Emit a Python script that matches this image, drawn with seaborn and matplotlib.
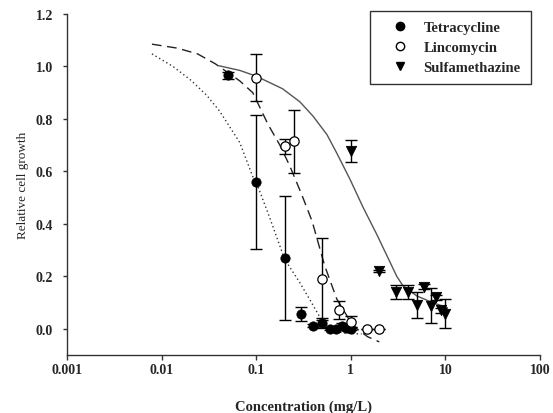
import numpy as np
import pandas as pd
import matplotlib
matplotlib.use("Agg")
import matplotlib.pyplot as plt
import seaborn as sns
from matplotlib.ticker import FixedLocator, NullLocator
from matplotlib.lines import Line2D

# ---- data ----
tet_x = [0.05, 0.1, 0.2, 0.3, 0.4, 0.5, 0.6, 0.7, 0.8, 0.9, 1.0]
tet_y = [0.966, 0.56, 0.27, 0.057, 0.012, 0.022, 0.0, 0.0, 0.012, 0.003, 0.0]
tet_err = [0.012, 0.255, 0.235, 0.027, 0.005, 0.02, 0.005, 0.005, 0.01, 0.005, 0.005]

linc_x = [0.1, 0.2, 0.25, 0.5, 0.75, 1.0, 1.5, 2.0]
linc_y = [0.957, 0.695, 0.715, 0.19, 0.072, 0.027, 0.0, 0.0]
linc_err = [0.09, 0.027, 0.12, 0.155, 0.033, 0.02, 0.0, 0.0]

sulf_x = [1.0, 2.0, 3.0, 4.0, 5.0, 6.0, 7.0, 8.0, 9.0, 10.0]
sulf_y = [0.678, 0.22, 0.14, 0.14, 0.09, 0.16, 0.088, 0.12, 0.07, 0.057]
sulf_err = [0.042, 0.005, 0.025, 0.025, 0.05, 0.01, 0.067, 0.01, 0.01, 0.055]

# fitted curves
tet_fit_x = [0.0079, 0.0132, 0.020, 0.030, 0.041, 0.067, 0.092, 0.1, 0.14, 0.2, 0.29, 0.37, 0.47, 0.6, 0.8, 1.0, 1.3]
tet_fit_y = [1.048, 1.0, 0.95, 0.89, 0.83, 0.71, 0.58, 0.56, 0.42, 0.265, 0.175, 0.11, 0.045, 0.0, -0.015, -0.018, -0.02]

linc_fit_x = [0.0079, 0.0146, 0.024, 0.037, 0.067, 0.092, 0.133, 0.178, 0.227, 0.304, 0.39, 0.53, 0.71, 1.05, 1.5, 2.0]
linc_fit_y = [1.085, 1.07, 1.048, 1.01, 0.945, 0.90, 0.78, 0.70, 0.62, 0.51, 0.41, 0.24, 0.114, 0.012, -0.03, -0.05]

sulf_fit_x = [0.040, 0.067, 0.1, 0.19, 0.29, 0.40, 0.56, 0.71, 0.98, 1.34, 1.88, 2.40, 3.06, 3.54, 5.0, 7.3, 10.5]
sulf_fit_y = [1.003, 0.985, 0.963, 0.915, 0.865, 0.81, 0.74, 0.67, 0.57, 0.465, 0.36, 0.28, 0.20, 0.165, 0.125, 0.10, 0.08]

series_names = ["Tetracycline", "Lincomycin", "Sulfamethazine"]
x_ticks = [0.001, 0.01, 0.1, 1, 10, 100]
x_tick_labels = ["0.001", "0.01", "0.1", "1", "10", "100"]
y_ticks = [0.0, 0.2, 0.4, 0.6, 0.8, 1.0, 1.2]

# ---- style ----
sns.set_style("ticks")
plt.rcParams["font.family"] = ["Liberation Serif", "DejaVu Serif"]

fig = plt.figure(figsize=(5.53, 4.14), dpi=100)
ax = fig.add_axes([67 / 553, 1 - 356 / 414, (540 - 67) / 553, (356 - 15) / 414])

# fitted curves
sns.lineplot(x=tet_fit_x, y=tet_fit_y, ax=ax, color="#333333", lw=1.0,
             linestyle=(0, (1, 2)), sort=False, estimator=None)
sns.lineplot(x=linc_fit_x, y=linc_fit_y, ax=ax, color="#222222", lw=1.0,
             linestyle=(0, (7, 4)), sort=False, estimator=None)
sns.lineplot(x=sulf_fit_x, y=sulf_fit_y, ax=ax, color="#555555", lw=1.0,
             linestyle="-", sort=False, estimator=None)

# error bars
for xs, ys, es in [(tet_x, tet_y, tet_err), (linc_x, linc_y, linc_err), (sulf_x, sulf_y, sulf_err)]:
    ax.errorbar(xs, ys, yerr=es, fmt="none", ecolor="black", elinewidth=1.0,
                capsize=4, capthick=1.0, zorder=3)

# points
sns.scatterplot(x=tet_x, y=tet_y, ax=ax, marker="o", s=45, color="black",
                edgecolor="black", zorder=4)
sns.scatterplot(x=linc_x, y=linc_y, ax=ax, marker="o", s=45, color="white",
                edgecolor="black", linewidth=0.9, zorder=4)
sns.scatterplot(x=sulf_x, y=sulf_y, ax=ax, marker="v", s=55, color="black",
                edgecolor="black", zorder=4)

ax.set_xscale("log")
ax.set_xlim(0.001, 100)
ax.set_ylim(-0.1, 1.2)
ax.xaxis.set_major_locator(FixedLocator(x_ticks))
ax.xaxis.set_minor_locator(NullLocator())
ax.set_xticks(x_ticks)
ax.set_xticklabels(x_tick_labels)
ax.set_yticks(y_ticks)
ax.set_yticklabels([f"{v:.1f}" for v in y_ticks])

for lab in ax.get_xticklabels() + ax.get_yticklabels():
    lab.set_fontweight("bold")
    lab.set_fontsize(10)

ax.tick_params(axis="x", direction="out", length=3.5, width=1.0, color="#333333", pad=2)
ax.tick_params(axis="y", direction="out", length=3, width=1.0, color="#333333", pad=7)
sns.despine(ax=ax)
for sp in ["left", "bottom"]:
    ax.spines[sp].set_color("#333333")
    ax.spines[sp].set_linewidth(1.0)

ax.set_xlabel("Concentration (mg/L)", fontsize=10.5, fontweight="bold", labelpad=17)
ax.set_ylabel("Relative cell growth", fontsize=9.5, fontweight="normal", labelpad=5)

handles = [
    Line2D([], [], marker="o", linestyle="none", color="black", markersize=6),
    Line2D([], [], marker="o", linestyle="none", markerfacecolor="white",
           markeredgecolor="black", markersize=6),
    Line2D([], [], marker="v", linestyle="none", color="black", markersize=6),
]
leg = ax.legend(handles, series_names, loc="upper right",
                bbox_to_anchor=(531 / 553, 1 - 12 / 414), bbox_transform=fig.transFigure,
                borderaxespad=0, frameon=True, fancybox=False, shadow=False,
                prop={"family": ["Liberation Serif"], "weight": "bold", "size": 10.5},
                handletextpad=0.35, labelspacing=0.45, borderpad=0.7, handlelength=2.6)
leg.get_frame().set_edgecolor("black")
leg.get_frame().set_linewidth(1.0)

fig.savefig("out.png", dpi=100)
